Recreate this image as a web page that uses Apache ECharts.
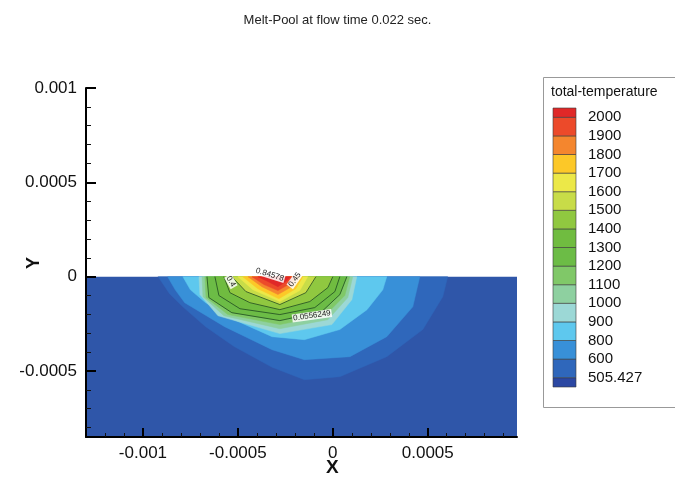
<!DOCTYPE html>
<html>
<head>
<meta charset="utf-8">
<script src="https://cdn.jsdelivr.net/npm/echarts@6/dist/echarts.min.js"></script>
<style>html,body{margin:0;padding:0;background:#fff}#c{width:675px;height:479px}</style>
</head>
<body>
<div id="c"></div>
<script>
// ---- axis ticks ----
const xTickValues = [-0.001, -0.0005, 0, 0.0005];
const xTickLabels = ['-0.001', '-0.0005', '0', '0.0005'];
const xMinorTicks = [-0.0012,-0.0011,-0.0009,-0.0008,-0.0007,-0.0006,-0.0004,-0.0003,-0.0002,-0.0001,0.0001,0.0002,0.0003,0.0004,0.0006,0.0007,0.0008,0.0009];
const yTickValues = [-0.0005, 0, 0.0005, 0.001];
const yTickLabels = ['-0.0005', '0', '0.0005', '0.001'];
const yMinorTicks = [-0.0008,-0.0007,-0.0006,-0.0004,-0.0003,-0.0002,-0.0001,0.0001,0.0002,0.0003,0.0004,0.0006,0.0007,0.0008,0.0009];

// ---- computational domain ----
const domainX = [-0.0013, 0.00097];
const domainY = [-0.00085, 0];

// ---- contour levels (temperature) and their boundaries (x, y in m) ----
const contourLevels = [505.427, 600, 800, 900, 1000, 1100, 1200, 1300, 1400, 1500, 1600, 1700, 1800, 1900, 2000];
const level505 = [[-0.00092,0],[-0.00086,-0.00009],[-0.00079,-0.00016],[-0.00067,-0.000265],[-0.00052,-0.00037],[-0.00032,-0.00048],[-0.00015,-0.000546],[0.000037,-0.00053],[0.000284,-0.000424],[0.000474,-0.00028],[0.000579,-0.000106],[0.000605,0]];
const level600 = [[-0.00087,0],[-0.00083,-0.00007],[-0.00078,-0.000138],[-0.00057,-0.000265],[-0.00032,-0.000387],[-0.00015,-0.00044],[0.00009,-0.000424],[0.000284,-0.000318],[0.000421,-0.00016],[0.000458,0]];
const level800 = [[-0.00079,0],[-0.00075,-0.00007],[-0.00067,-0.000138],[-0.00052,-0.000228],[-0.00032,-0.000318],[-0.00015,-0.000334],[0.000037,-0.00028],[0.00018,-0.000175],[0.000263,-0.00007],[0.000284,0]];
const level900 = [[-0.000705,0],[-0.0007,-0.000095],[-0.000605,-0.000207],[-0.000279,-0.000302],[-0.000005,-0.000254],[0.0001,-0.000122],[0.000126,0]];
const level1000 = [[-0.000689,0],[-0.000684,-0.000106],[-0.000574,-0.000207],[-0.000279,-0.000276],[-0.000026,-0.000228],[0.000079,-0.000111],[0.000105,0]];
const level1100 = [[-0.000674,0],[-0.000668,-0.000111],[-0.000553,-0.000201],[-0.000279,-0.000254],[-0.000042,-0.000207],[0.000063,-0.0001],[0.000089,0]];
const level1200 = [[-0.000663,0],[-0.000653,-0.000111],[-0.000532,-0.000191],[-0.000279,-0.000233],[-0.000058,-0.000185],[0.000037,-0.000095],[0.000074,0]];
const level1300 = [[-0.000621,0],[-0.0006,-0.0001],[-0.000489,-0.00017],[-0.000279,-0.000201],[-0.000095,-0.000164],[0.000011,-0.000079],[0.000037,0]];
const level1400 = [[-0.000574,0],[-0.000542,-0.000085],[-0.000437,-0.000138],[-0.000279,-0.000175],[-0.000121,-0.000132],[-0.000026,-0.000058],[0,0]];
const level1500 = [[-0.000532,0],[-0.000458,-0.000079],[-0.000279,-0.000148],[-0.000142,-0.000085],[-0.000089,0]];
const level1600 = [[-0.0005,0],[-0.000421,-0.000069],[-0.000279,-0.000132],[-0.000174,-0.000074],[-0.000132,0]];
const level1700 = [[-0.000474,0],[-0.000395,-0.000064],[-0.000284,-0.000117],[-0.000195,-0.000064],[-0.000158,0]];
const level1800 = [[-0.000447,0],[-0.000374,-0.000053],[-0.000289,-0.000095],[-0.000216,-0.000053],[-0.000179,0]];
const level1900 = [[-0.000426,0],[-0.000363,-0.000042],[-0.000289,-0.000074],[-0.000226,-0.000037],[-0.0002,0]];
const level2000 = [[-0.000395,0],[-0.000342,-0.000026],[-0.000289,-0.000053],[-0.000247,-0.000026],[-0.000221,0]];
const contourPolys = [level505, level600, level800, level900, level1000, level1100, level1200, level1300, level1400, level1500, level1600, level1700, level1800, level1900, level2000];

// ---- liquid-fraction isolines (they follow these temperature boundaries) ----
const fracLines = [level1200, level1300, level1400, level1500];
const fracLabelText = ['0.0556249', '0.4', '0.84578', '0.45'];
const fracLabelPos = [[-0.00011,-0.000207],[-0.000537,-0.000026],[-0.000332,0.000011],[-0.0002,-0.000016]];

// ---- legend ----
const legendLabels = ['505.427','600','800','900','1000','1100','1200','1300','1400','1500','1600','1700','1800','1900','2000'];
const legendTitle = 'total-temperature';

// ---- styles ----
const bandColors = ['#2b47a2','#2f67bb','#3890d8','#5ec8ee','#9cd8d6','#8ed0a0','#80c868','#6cbc46','#70bc40','#90c840','#c8dc48','#ece848','#fcc828','#f4862e','#ec4a2a','#e02828'];
const plotBg = '#2f56a9';
const FONT = 'Liberation Sans, Arial, sans-serif';
const labelRot = [0.14, -1.05, -0.3, 0.95];

function fmt(values, labels) {
  return v => { const i = values.findIndex(t => Math.abs(t - v) < 1e-9); return i >= 0 ? labels[i] : ''; };
}

const chart = echarts.init(document.getElementById('c'), null, {renderer: 'canvas'});

const option = {
  animation: false,
  title: {
    text: 'Melt-Pool at flow time 0.022 sec.',
    left: 'center', top: 9,
    textStyle: {fontSize: 13, fontWeight: 'normal', color: '#222', fontFamily: FONT}
  },
  grid: [
    {left: 86, top: 88, right: 158, bottom: 42, containLabel: false, outerBoundsMode: 'none'},
    {left: 553, top: 108, width: 23, height: 279, containLabel: false, outerBoundsMode: 'none'}
  ],
  xAxis: [
    {gridIndex: 0, type: 'value', min: domainX[0], max: domainX[1], z: 10,
     axisLine: {onZero: false, lineStyle: {color: '#000', width: 2}},
     axisTick: {inside: true, length: 9, lineStyle: {color: '#000', width: 2}, customValues: xTickValues},
     axisLabel: {customValues: xTickValues, formatter: fmt(xTickValues, xTickLabels), fontSize: 17, color: '#111', margin: 8, fontFamily: FONT},
     splitLine: {show: false}},
    {gridIndex: 0, type: 'value', min: domainX[0], max: domainX[1], z: 10, position: 'bottom',
     axisLine: {show: false, onZero: false},
     axisTick: {inside: true, length: 4, lineStyle: {color: '#111', width: 1}, customValues: xMinorTicks},
     axisLabel: {show: false}, splitLine: {show: false}},
    {gridIndex: 1, type: 'value', min: 0, max: 1, show: false}
  ],
  yAxis: [
    {gridIndex: 0, type: 'value', min: domainY[0], max: 0.001, z: 10,
     axisLine: {onZero: false, lineStyle: {color: '#000', width: 2}},
     axisTick: {inside: true, length: 10, lineStyle: {color: '#000', width: 2}, customValues: yTickValues},
     axisLabel: {customValues: yTickValues, formatter: fmt(yTickValues, yTickLabels), fontSize: 17, color: '#111', margin: 9, fontFamily: FONT},
     splitLine: {show: false}},
    {gridIndex: 0, type: 'value', min: domainY[0], max: 0.001, z: 10, position: 'left',
     axisLine: {show: false, onZero: false},
     axisTick: {inside: true, length: 5, lineStyle: {color: '#111', width: 1}, customValues: yMinorTicks},
     axisLabel: {show: false}, splitLine: {show: false}},
    {gridIndex: 1, type: 'value', min: 0, max: 15, position: 'right',
     axisLine: {show: false}, axisTick: {show: false}, splitLine: {show: false},
     axisLabel: {customValues: legendLabels.map((_, i) => i + 0.5),
       formatter: v => legendLabels[Math.round(v - 0.5)] || '',
       fontSize: 15, color: '#111', margin: 12, fontFamily: FONT, padding: [5, 0, 0, 0]}}
  ],
  graphic: [
    {type: 'rect', left: 541, top: 75, shape: {width: 133, height: 330}, style: {fill: 'none', stroke: '#999', lineWidth: 1}, z: 0},
    {type: 'text', left: 551, top: 85, style: {text: legendTitle, fontSize: 14, fill: '#111', fontFamily: FONT}},
    {type: 'text', left: 326, top: 458, style: {text: 'X', fontSize: 19, fontWeight: 'bold', fill: '#111', fontFamily: FONT}},
    {type: 'text', x: 34, y: 263, rotation: Math.PI / 2, style: {text: 'Y', fontSize: 18, fontWeight: 'bold', fill: '#111', fontFamily: FONT, align: 'center', verticalAlign: 'middle'}}
  ],
  series: [
    {
      type: 'custom', xAxisIndex: 0, yAxisIndex: 0, z: 1,
      data: [[domainX[0], domainY[0]]],
      renderItem: (params, api) => {
        const p0 = api.coord([domainX[0], domainY[1]]);
        const p1 = api.coord([domainX[1], domainY[0]]);
        return {type: 'rect', shape: {x: p0[0], y: p0[1], width: p1[0] - p0[0], height: p1[1] - p0[1]}, style: {fill: plotBg}};
      }
    },
    {
      type: 'custom', xAxisIndex: 0, yAxisIndex: 0, z: 2,
      data: contourPolys.map((p, i) => [p[0][0], p[0][1], i]),
      renderItem: (params, api) => {
        const i = api.value(2);
        const pts = contourPolys[i].map(p => api.coord(p));
        return {type: 'polygon', shape: {points: pts}, style: {fill: bandColors[i + 1], stroke: bandColors[i + 1], lineWidth: 0.5}};
      }
    },
    {
      type: 'custom', xAxisIndex: 0, yAxisIndex: 0, z: 3,
      data: fracLines.map((p, i) => [p[0][0], p[0][1], i]),
      renderItem: (params, api) => {
        const i = api.value(2);
        const pts = fracLines[i].map(p => api.coord(p));
        return {type: 'polyline', shape: {points: pts}, style: {fill: 'none', stroke: '#1e4a22', lineWidth: 0.8}};
      }
    },
    {
      type: 'custom', xAxisIndex: 0, yAxisIndex: 0, z: 4,
      data: fracLabelPos.map((p, i) => [p[0], p[1], i]),
      renderItem: (params, api) => {
        const i = api.value(2);
        const c = api.coord([api.value(0), api.value(1)]);
        return {type: 'text', x: c[0], y: c[1], rotation: labelRot[i],
          style: {text: fracLabelText[i], fontSize: 8, fill: '#222', fontFamily: FONT, align: 'center', verticalAlign: 'middle', backgroundColor: 'rgba(255,255,255,0.85)', padding: [0, 1]}};
      }
    },
    {
      type: 'custom', xAxisIndex: 2, yAxisIndex: 2, z: 2,
      data: bandColors.map((c, i) => [0, i, i]),
      renderItem: (params, api) => {
        const i = api.value(2);
        const lo = i === 0 ? 0 : i - 0.5;
        const hi = i === bandColors.length - 1 ? 15 : i + 0.5;
        const a = api.coord([0, hi]);
        const b = api.coord([1, lo]);
        return {type: 'rect', shape: {x: a[0], y: a[1], width: b[0] - a[0], height: b[1] - a[1]}, style: {fill: bandColors[i], stroke: '#3a3a3a', lineWidth: 0.6}};
      }
    }
  ]
};
chart.setOption(option);
</script>
</body>
</html>
